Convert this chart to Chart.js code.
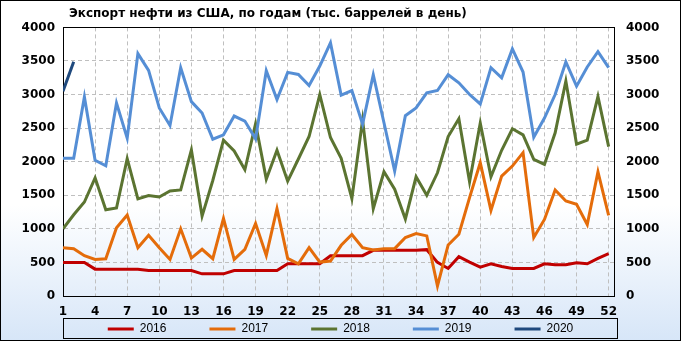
<!DOCTYPE html>
<html>
<head>
<meta charset="utf-8">
<title>Экспорт нефти из США</title>
<script src="https://cdn.jsdelivr.net/npm/chart.js@4"></script>
<style>
  html, body { margin: 0; padding: 0; background: #fff; }
  #wrap {
    width: 681px;
    height: 341px;
    box-sizing: border-box;
    border: 1px solid #000;
    background: linear-gradient(to bottom, #ffffff 0%, #ffffff 60%, #d7e6f8 100%);
  }
  canvas { display: block; }
</style>
</head>
<body>
<div id="wrap"><canvas id="exportChart" width="679" height="339"></canvas></div>
<script>
const titleText = 'Экспорт нефти из США, по годам (тыс. баррелей в день)';

const weeks = [1, 2, 3, 4, 5, 6, 7, 8, 9, 10, 11, 12, 13, 14, 15, 16, 17, 18, 19, 20, 21, 22, 23, 24, 25, 26,
    27, 28, 29, 30, 31, 32, 33, 34, 35, 36, 37, 38, 39, 40, 41, 42, 43, 44, 45, 46, 47, 48, 49, 50, 51, 52];
const tickWeeks = [1, 4, 7, 10, 13, 16, 19, 22, 25, 28, 31, 34, 37, 40, 43, 46, 49, 52];

// тыс. баррелей в день, по неделям
const exports2016 = [500, 500, 500, 400, 400, 400, 400, 400, 380, 380, 380, 380, 380, 330, 330, 330, 380, 380,
    380, 380, 380, 480, 480, 480, 480, 600, 600, 600, 600, 680, 680, 680, 680, 680, 690, 500, 410, 585, 505, 430,
    480, 440, 410, 410, 410, 480, 465, 465, 495, 480, 560, 630];
const exports2017 = [720, 705, 600, 545, 555, 1015, 1205, 720, 905, 720, 545, 1000, 565, 695, 555, 1155, 545, 695,
    1080, 605, 1300, 560, 480, 720, 505, 520, 755, 915, 720, 685, 705, 705, 870, 930, 895, 150, 760, 920, 1465,
    1985, 1275, 1785, 1935, 2135, 870, 1140, 1580, 1415, 1365, 1065, 1850, 1200];
const exports2018 = [1000, 1210, 1400, 1760, 1285, 1310, 2045, 1445, 1495, 1475, 1565, 1580, 2175, 1190, 1720,
    2320, 2160, 1880, 2565, 1740, 2170, 1710, 2040, 2375, 3000, 2360, 2050, 1450, 2620, 1300, 1850, 1590, 1145,
    1775, 1500, 1835, 2375, 2640, 1700, 2575, 1775, 2170, 2490, 2400, 2035, 1960, 2430, 3200, 2260, 2320, 2970, 2225];
const exports2019 = [2050, 2050, 2965, 2020, 1940, 2875, 2350, 3610, 3360, 2800, 2540, 3400, 2895, 2725, 2335,
    2400, 2680, 2605, 2340, 3355, 2925, 3330, 3300, 3135, 3425, 3770, 2990, 3060, 2560, 3295, 2580, 1860, 2685,
    2800, 3025, 3060, 3295, 3175, 3000, 2860, 3400, 3250, 3680, 3335, 2365, 2650, 3000, 3485, 3125, 3410, 3640, 3400];
const exports2020 = [3050, 3490];

const tickFont = { family: 'DejaVu Sans', size: 12, weight: 'bold' };
const gridColor = '#bfbfbf';

function series(label, data, color, order) {
    return {
        label: label,
        data: data,
        borderColor: color,
        backgroundColor: color,
        borderWidth: 3,
        pointRadius: 0,
        tension: 0,
        fill: false,
        order: order
    };
}

// рамка области построения и рамка легенды, как в Excel
const framePlugin = {
    id: 'frame',
    afterLayout(chart) {
        chart.titleBlock.left += 6;
        chart.titleBlock.right += 6;
        const lg = chart.legend;
        const pad = lg.options.labels.padding;
        lg.boxTop = lg.top;
        lg.boxBottom = lg.bottom;
        lg.top = lg.boxTop + lg.height / 2 - 6 - pad;
    },
    beforeDatasetsDraw(chart) {
        const a = chart.chartArea;
        const ctx = chart.ctx;
        ctx.save();
        ctx.strokeStyle = '#000';
        ctx.lineWidth = 1;
        ctx.strokeRect(Math.round(a.left) + 0.5, Math.round(a.top) + 0.5,
            Math.round(a.right - a.left), Math.round(a.bottom - a.top));
        ctx.restore();
    },
    afterDraw(chart) {
        const a = chart.chartArea;
        const lg = chart.legend;
        const ctx = chart.ctx;
        ctx.save();
        ctx.strokeStyle = '#000';
        ctx.lineWidth = 1;
        const top = Math.round(lg.boxTop) + 0.5;
        const bottom = Math.round(lg.boxBottom) - 1.5;
        ctx.strokeRect(Math.round(a.left) + 0.5, top, Math.round(a.right - a.left) + 3, bottom - top);
        ctx.restore();
    }
};

const plainNumber = v => String(v);

const ctx = document.getElementById('exportChart').getContext('2d');

const chart = new Chart(ctx, {
    type: 'line',
    data: {
        labels: weeks,
        datasets: [
            series('2016', exports2016, '#c00000', 5),
            series('2017', exports2017, '#e46c0a', 4),
            series('2018', exports2018, '#5b7431', 3),
            series('2019', exports2019, '#558ed5', 2),
            series('2020', exports2020, '#1f497d', 1)
        ]
    },
    options: {
        responsive: false,
        animation: false,
        devicePixelRatio: 1,
        events: [],
        layout: { padding: 0 },
        plugins: {
            title: {
                display: true,
                text: titleText,
                align: 'start',
                fullSize: false,
                color: '#000',
                font: { family: 'DejaVu Sans', size: 12, weight: 'bold' },
                padding: { top: 6, bottom: 6 }
            },
            legend: {
                position: 'bottom',
                maxHeight: 22,
                labels: {
                    usePointStyle: true,
                    pointStyle: 'line',
                    pointStyleWidth: 26,
                    padding: 43,
                    color: '#000',
                    font: { family: 'Liberation Sans', size: 12 },
                    sort: (a, b) => a.datasetIndex - b.datasetIndex
                }
            },
            tooltip: { enabled: false }
        },
        scales: {
            x: {
                type: 'linear',
                min: 1,
                max: 52.5,
                afterBuildTicks: s => { s.ticks = tickWeeks.map(v => ({ value: v })); },
                afterFit: s => { s.height = 22; },
                ticks: { font: tickFont, color: '#000', padding: 9, autoSkip: false, maxRotation: 0, callback: plainNumber },
                grid: { color: gridColor, drawTicks: false },
                border: { color: '#000', dash: [4, 3] }
            },
            y: {
                position: 'left',
                min: 0,
                max: 4000,
                afterFit: s => { s.width = 62; },
                ticks: { stepSize: 500, font: tickFont, color: '#000', padding: 8, callback: plainNumber },
                grid: { color: gridColor, drawTicks: false },
                border: { color: '#000', dash: [4, 3] }
            },
            y2: {
                position: 'right',
                min: 0,
                max: 4000,
                afterFit: s => { s.width = 66; },
                ticks: { stepSize: 500, font: tickFont, color: '#000', padding: 12, callback: plainNumber },
                grid: { drawOnChartArea: false, drawTicks: false },
                border: { color: '#000' }
            }
        }
    },
    plugins: [framePlugin]
});
</script>
</body>
</html>
